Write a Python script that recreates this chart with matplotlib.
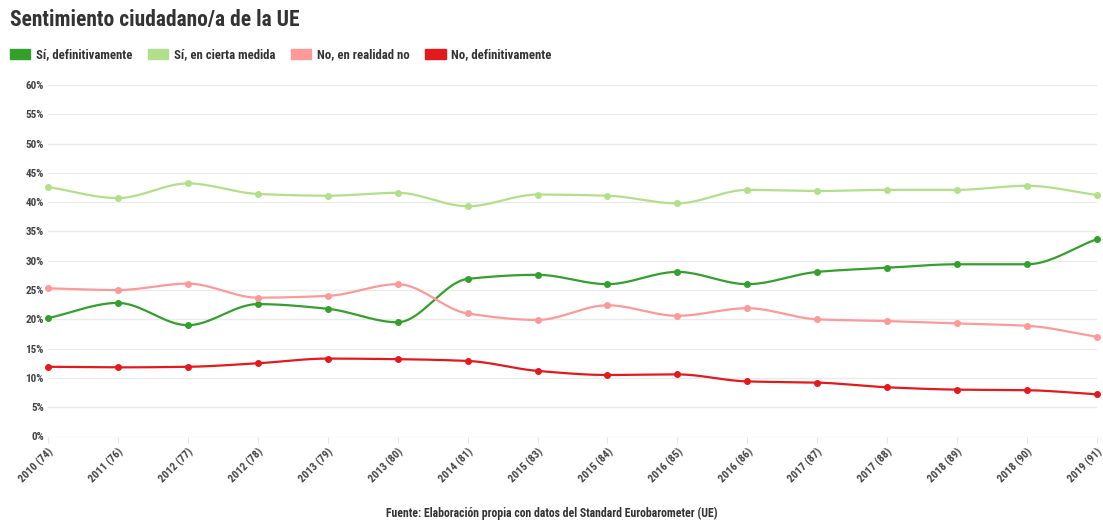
import matplotlib.pyplot as plt
from matplotlib.patches import Patch
from matplotlib import font_manager
import numpy as np

# fuente condensada si existe
names = {f.name for f in font_manager.fontManager.ttflist}
fam = [n for n in ['Roboto Condensed', 'Liberation Sans Narrow', 'Roboto'] if n in names] + ['DejaVu Sans']
plt.rcParams['font.family'] = fam

oleadas = ['2010 (74)', '2011 (76)', '2012 (77)', '2012 (78)', '2013 (79)', '2013 (80)',
           '2014 (81)', '2015 (83)', '2015 (84)', '2016 (85)', '2016 (86)', '2017 (87)',
           '2017 (88)', '2018 (89)', '2018 (90)', '2019 (91)']
si_def = [20.2, 22.8, 19.0, 22.6, 21.8, 19.5, 26.9, 27.6, 26.0, 28.1, 26.0, 28.1, 28.8, 29.4, 29.4, 33.7]
si_cierta = [42.6, 40.7, 43.2, 41.4, 41.1, 41.6, 39.3, 41.3, 41.1, 39.8, 42.1, 41.9, 42.1, 42.1, 42.8, 41.2]
no_realidad = [25.3, 25.0, 26.1, 23.7, 24.0, 26.0, 21.0, 19.9, 22.4, 20.6, 21.9, 20.0, 19.7, 19.3, 18.9, 17.0]
no_def = [11.9, 11.8, 11.9, 12.5, 13.3, 13.2, 12.9, 11.2, 10.5, 10.6, 9.4, 9.2, 8.4, 8.0, 7.9, 7.2]

series = [
    ('Sí, definitivamente', si_def, '#33a02c'),
    ('Sí, en cierta medida', si_cierta, '#b2df8a'),
    ('No, en realidad no', no_realidad, '#fb9a99'),
    ('No, definitivamente', no_def, '#e31a1c'),
]


def suavizar(x, y, n=20):
    # spline monotona (Fritsch-Carlson) solo para el trazo
    x = np.asarray(x, float)
    y = np.asarray(y, float)
    h = np.diff(x)
    d = np.diff(y) / h
    m = np.zeros_like(y)
    m[0], m[-1] = d[0], d[-1]
    for i in range(1, len(y) - 1):
        if d[i - 1] * d[i] > 0:
            m[i] = 2 / (1 / d[i - 1] + 1 / d[i])
    xs, ys = [], []
    for i in range(len(x) - 1):
        t = np.linspace(0, 1, n, endpoint=False)
        h00 = 2 * t**3 - 3 * t**2 + 1
        h10 = t**3 - 2 * t**2 + t
        h01 = -2 * t**3 + 3 * t**2
        h11 = t**3 - t**2
        xs.append(x[i] + t * h[i])
        ys.append(h00 * y[i] + h10 * h[i] * m[i] + h01 * y[i + 1] + h11 * h[i] * m[i + 1])
    xs.append([x[-1]])
    ys.append([y[-1]])
    return np.concatenate(xs), np.concatenate(ys)


fig = plt.figure(figsize=(11.03, 5.2), dpi=100)
ax = fig.add_axes([48 / 1103, 1 - 436.5 / 520, (1097 - 48) / 1103, (436.5 - 85) / 520])

x = np.arange(len(oleadas))
for nombre, vals, col in series:
    xs, ys = suavizar(x, vals)
    ax.plot(xs, ys, color=col, lw=1.6, clip_on=False, zorder=3)
    ax.plot(x, vals, 'o', color=col, ms=4, clip_on=False, zorder=4)

ax.set_xlim(0, len(oleadas) - 1)
ax.set_ylim(0, 60)
ax.set_yticks(range(0, 61, 5))
ax.set_yticklabels([f'{v}%' for v in range(0, 61, 5)])
ax.set_xticks(x)
ax.set_xticklabels(oleadas, rotation=45, ha='right', rotation_mode='anchor')
ax.grid(axis='y', color='#ebebeb', lw=1)
ax.set_axisbelow(True)
for s in ax.spines.values():
    s.set_visible(False)
ax.tick_params(axis='y', length=0, pad=3, labelsize=8, labelcolor='#444444')
ax.tick_params(axis='x', length=4, color='#e6e6e6', pad=3, labelsize=8, labelcolor='#444444')
for lab in ax.get_xticklabels() + ax.get_yticklabels():
    lab.set_fontweight('bold')

fig.text(10 / 1103, 1 - 20 / 520, 'Sentimiento ciudadano/a de la UE', fontsize=15.5,
         fontweight='bold', color='#333333', va='center', ha='left')

handles = [Patch(facecolor=c, edgecolor=c, label=n) for n, _, c in series]
leg = fig.legend(handles=handles, loc='center left', bbox_to_anchor=(10 / 1103, 1 - 55 / 520),
                 ncol=4, frameon=False, handlelength=1.6, handleheight=0.9, handletextpad=0.45,
                 columnspacing=1.2, borderpad=0, borderaxespad=0,
                 prop={'size': 9.2, 'weight': 'bold'})
for t in leg.get_texts():
    t.set_color('#333333')

fig.text(0.5, 1 - 513 / 520, 'Fuente: Elaboración propia con datos del Standard Eurobarometer (UE)',
         fontsize=8.5, fontweight='bold', color='#333333', ha='center', va='center')

fig.savefig('out.png', dpi=100)
